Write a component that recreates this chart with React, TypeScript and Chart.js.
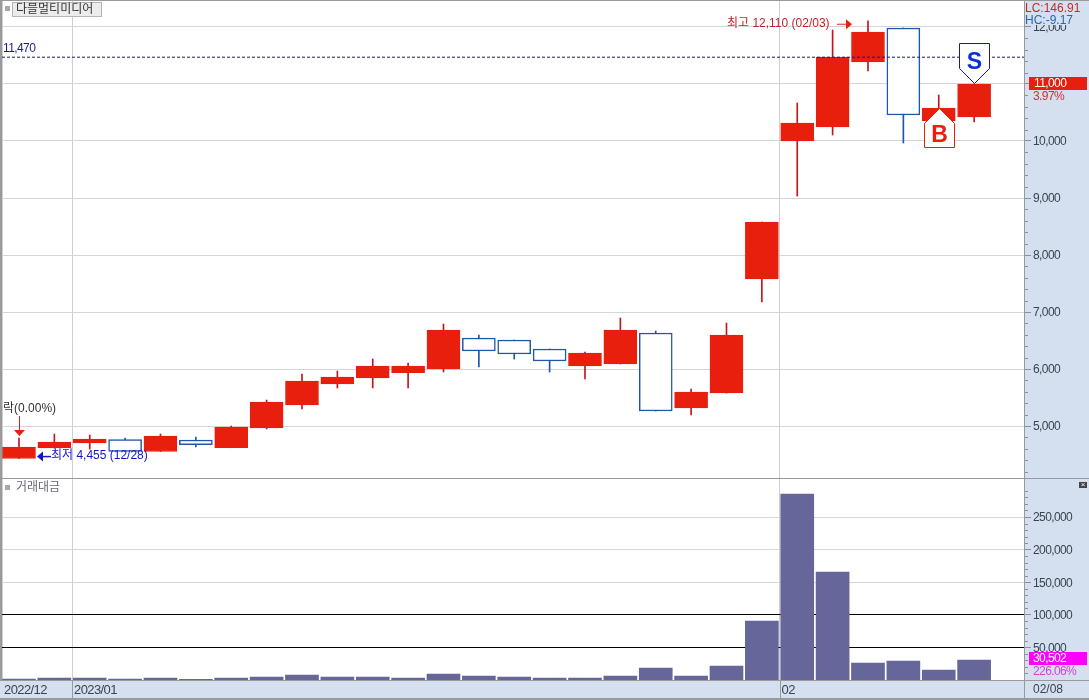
import React, { useEffect, useRef } from "react";
import { Chart, registerables } from "chart.js";

Chart.register(...registerables);

const candleOpen = [4430, 4614, 4702, 4763, 4553, 4754, 4619, 4965, 5368, 5737, 5842, 5935, 6000, 6544, 6509, 6351, 6053, 6088, 6632, 5316, 5579, 7579, 10000, 10246, 11386, 11983, 10351, 10421];
const candleClose = [4632, 4719, 4772, 4553, 4825, 4672, 4982, 5421, 5789, 5860, 6053, 6053, 6684, 6316, 6263, 6140, 6281, 6684, 5263, 5596, 6596, 8579, 10316, 11470, 11912, 10456, 10579, 11000];
const candleHigh = [4789, 4860, 4842, 4789, 4860, 4807, 5000, 5456, 5912, 5965, 6175, 6105, 6789, 6596, 6509, 6351, 6298, 6895, 6667, 5649, 6807, 8579, 10667, 11947, 12110, 11983, 10807, 11000];
const candleLow = [4430, 4614, 4596, 4553, 4553, 4632, 4619, 4947, 5298, 5667, 5667, 5667, 5947, 6035, 6175, 5947, 5825, 6088, 5263, 5193, 5579, 7175, 9035, 10105, 11228, 9965, 10351, 10333];
const tradingValue = [1500, 3000, 3000, 1500, 3000, 1000, 3000, 4500, 7700, 4500, 4500, 3000, 9200, 6000, 4500, 3000, 3000, 6000, 18400, 6000, 21500, 90500, 285000, 165500, 26000, 29000, 15300, 30502];

const priceTicks = [5000, 6000, 7000, 8000, 9000, 10000, 11000, 12000];
const valueTicks = [50000, 100000, 150000, 200000, 250000];
const dateTicks = [-0.48, 1.5, 21.5];
const dateLabels = ["2022/12", "2023/01", "02"];
const referenceLine = 11470;

const RED = "#e81f0d";
const BLUE = "#1f56a8";
const FAMILY = '"Liberation Sans","Noto Sans CJK KR",sans-serif';
const LABEL = `12px ${FAMILY}`;
const AXIS_GRAY = "#8b9197";
const LIGHT = "#d4e0ef";
const TIGHT = "-0.6px";

function text(ctx: any, s: string, x: number, y: number, color: string, spacing = "0px", font = LABEL, align: CanvasTextAlign = "left") {
  ctx.font = font;
  ctx.letterSpacing = spacing;
  ctx.fillStyle = color;
  ctx.textAlign = align;
  ctx.textBaseline = "middle";
  ctx.fillText(s, x, y + 1);
}

function poly(ctx: CanvasRenderingContext2D, pts: number[][], fill: string, stroke?: string) {
  ctx.beginPath();
  pts.forEach((p, i) => (i ? ctx.lineTo(p[0], p[1]) : ctx.moveTo(p[0], p[1])));
  ctx.closePath();
  ctx.fillStyle = fill;
  ctx.fill();
  if (stroke) {
    ctx.strokeStyle = stroke;
    ctx.lineWidth = 1;
    ctx.stroke();
  }
}

const backdrop = {
  id: "backdrop",
  beforeDraw(chart: any) {
    const { ctx, width, height, chartArea: a } = chart;
    ctx.save();
    ctx.fillStyle = "#ffffff";
    ctx.fillRect(0, 0, width, height);
    ctx.fillStyle = LIGHT;
    ctx.fillRect(a.right, 0, width - a.right, height);
    ctx.fillRect(0, a.bottom, width, height - a.bottom);
    ctx.restore();
    ctx.letterSpacing = TIGHT; // narrow axis numerals
  },
};

const furniture = {
  id: "furniture",
  afterDraw(chart: any) {
    const { ctx, width, height, chartArea: a, scales } = chart;
    const { x, y, yVal } = scales;
    ctx.save();

    // minor axis ticks
    ctx.strokeStyle = AXIS_GRAY;
    ctx.lineWidth = 1;
    ctx.beginPath();
    for (let v = 4200; v <= 12400; v += 200) {
      if (v % 1000 === 0) continue;
      const py = Math.round(y.getPixelForValue(v)) + 0.5;
      ctx.moveTo(a.right, py);
      ctx.lineTo(a.right + 4, py);
    }
    for (let v = 10000; v <= 300000; v += 10000) {
      if (v % 50000 === 0) continue;
      const py = Math.round(yVal.getPixelForValue(v)) + 0.5;
      ctx.moveTo(a.right, py);
      ctx.lineTo(a.right + 4, py);
    }
    ctx.stroke();

    // frame
    ctx.fillStyle = "#9a9a9a";
    ctx.fillRect(0, 0, width, 1);
    ctx.fillRect(0, 0, 2, 681);
    ctx.fillRect(0, 698, width, 2);
    ctx.fillRect(0, 478, width, 1);
    ctx.fillRect(0, a.bottom, width, 1);
    ctx.fillRect(a.right, 0, 1, height);
    dateTicks.slice(1).forEach((t) => ctx.fillRect(Math.round(x.getPixelForValue(t)), a.bottom, 1, height - a.bottom));

    // title box
    ctx.fillStyle = "#a8a8a8";
    ctx.fillRect(5, 6, 5, 5);
    ctx.fillStyle = "#ececec";
    ctx.fillRect(12, 2, 89, 14);
    ctx.strokeStyle = "#b5b5b5";
    ctx.strokeRect(12.5, 2.5, 89, 14);
    text(ctx, "다믈멀티미디어", 16, 9, "#333333");
    ctx.fillStyle = "#a8a8a8";
    ctx.fillRect(5, 485, 5, 5);
    text(ctx, "거래대금", 16, 487, "#6a6a78");
    ctx.fillStyle = "#444444";
    ctx.fillRect(1079, 482, 8, 6);
    text(ctx, "×", 1083, 484, "#ffffff", "0px", '8px "Liberation Sans",sans-serif', "center");

    text(ctx, "11,470", 3, 48, "#1a1a9c", TIGHT);
    ctx.fillStyle = LIGHT;
    ctx.fillRect(a.right + 1, 1, 62, 24);
    text(ctx, "LC:146.91", 1025, 8, "#c62a2a");
    text(ctx, "HC:-9.17", 1025, 20, "#2a66b0");

    // last price tags
    ctx.fillStyle = RED;
    ctx.fillRect(1029, 77, 58, 13);
    text(ctx, "11,000", 1034, 83, "#ffffff", TIGHT);
    text(ctx, "3.97%", 1033, 96, "#d03030", TIGHT);
    ctx.fillStyle = "#ff00ff";
    ctx.fillRect(1029, 652, 58, 13);
    text(ctx, "30,502", 1033, 658, "#ffffff", TIGHT);
    text(ctx, "226.06%", 1033, 671, "#d040e0", TIGHT);
    text(ctx, "02/08", 1033, 689, "#3b4350");

    // high note
    const hx = x.getPixelForValue(24);
    const hy = y.getPixelForValue(12110);
    text(ctx, "최고 12,110 (02/03)", hx - 141, hy + 2, "#c8202a");
    ctx.strokeStyle = RED;
    ctx.beginPath();
    ctx.moveTo(hx - 31, hy + 3.5);
    ctx.lineTo(hx - 20, hy + 3.5);
    ctx.stroke();
    poly(ctx, [[hx - 22, hy - 1.5], [hx - 16, hy + 3.5], [hx - 22, hy + 8.5]], RED);

    // low note
    const lx = x.getPixelForValue(0);
    const ly = y.getPixelForValue(4455);
    text(ctx, "최저 4,455 (12/28)", lx + 32, ly - 2, "#1414c8");
    ctx.strokeStyle = "#1414c8";
    ctx.lineWidth = 1.5;
    ctx.beginPath();
    ctx.moveTo(lx + 22, ly - 0.5);
    ctx.lineTo(lx + 32, ly - 0.5);
    ctx.stroke();
    poly(ctx, [[lx + 18, ly - 0.5], [lx + 24, ly - 5.5], [lx + 24, ly + 4.5]], "#1414c8");

    // ex-rights note
    text(ctx, "락(0.00%)", 3, 408, "#333333");
    ctx.strokeStyle = "#c8202a";
    ctx.lineWidth = 1;
    ctx.beginPath();
    ctx.moveTo(lx + 0.5, 416);
    ctx.lineTo(lx + 0.5, 432);
    ctx.stroke();
    poly(ctx, [[lx - 5, 430], [lx + 6, 430], [lx + 0.5, 436]], RED);

    // buy marker
    const bx = Math.round(x.getPixelForValue(26)) + 0.5;
    const by = Math.round(y.getPixelForValue(10579)) + 0.5;
    poly(ctx, [[bx, by], [bx + 15, by + 15], [bx + 15, by + 39], [bx - 15, by + 39], [bx - 15, by + 15]], "#ffffff", RED);
    text(ctx, "B", bx, by + 26, RED, "0px", 'bold 23px "Liberation Sans",sans-serif', "center");

    // sell marker
    const sx = Math.round(x.getPixelForValue(27)) + 0.5;
    const sy = Math.round(y.getPixelForValue(11000)) - 0.5;
    poly(ctx, [[sx, sy], [sx + 15, sy - 15], [sx + 15, sy - 40], [sx - 15, sy - 40], [sx - 15, sy - 15]], "#ffffff", "#1a1a9c");
    text(ctx, "S", sx, sy - 22, "#0c30d8", "0px", 'bold 23px "Liberation Sans",sans-serif', "center");

    ctx.restore();
  },
};

const fitY = (s: any) => {
  s.width = 65;
  s.paddingTop = 0;
  s.paddingBottom = 0;
};

export default function App() {
  const ref = useRef<HTMLCanvasElement | null>(null);

  useEffect(() => {
    const xs = candleOpen.map((_, i) => i);
    const chart = new Chart(ref.current as HTMLCanvasElement, {
      data: {
        datasets: [
          {
            type: "line",
            label: "기준선",
            yAxisID: "y",
            order: 0,
            data: [{ x: -0.48, y: referenceLine }, { x: 28.41, y: referenceLine }],
            borderColor: "#14148c",
            borderWidth: 1,
            borderDash: [3, 2],
            pointRadius: 0,
          },
          {
            type: "bar",
            label: "몸통",
            yAxisID: "y",
            order: 1,
            data: xs.map((i) => ({ x: i, y: [candleOpen[i], candleClose[i]] })),
            barThickness: 33,
            grouped: false,
            backgroundColor: xs.map((i) => (candleClose[i] >= candleOpen[i] ? RED : "#ffffff")),
            borderColor: xs.map((i) => (candleClose[i] >= candleOpen[i] ? RED : BLUE)),
            borderWidth: xs.map((i) => (candleClose[i] >= candleOpen[i] ? 1 : 1.5)),
            borderSkipped: false,
          },
          {
            type: "bar",
            label: "꼬리",
            yAxisID: "y",
            order: 2,
            data: xs.map((i) => ({ x: i, y: [candleLow[i], candleHigh[i]] })),
            barThickness: 1,
            grouped: false,
            backgroundColor: xs.map((i) => (candleClose[i] >= candleOpen[i] ? "#c4161c" : BLUE)),
          },
          {
            type: "bar",
            label: "거래대금",
            yAxisID: "yVal",
            order: 3,
            data: xs.map((i) => ({ x: i, y: tradingValue[i] })),
            barThickness: 33,
            grouped: false,
            backgroundColor: "#67669a",
          },
        ],
      } as any,
      options: {
        responsive: false,
        animation: false,
        layout: { autoPadding: false, padding: { top: 1, left: 2, right: 0, bottom: 0 } },
        plugins: { legend: { display: false }, tooltip: { enabled: false } },
        scales: {
          x: {
            type: "linear",
            position: "bottom",
            offset: false,
            min: -0.48,
            max: 28.41,
            afterBuildTicks: (s: any) => {
              s.ticks = dateTicks.map((value) => ({ value }));
            },
            afterFit: (s: any) => {
              s.height = 20;
              s.paddingLeft = 0;
              s.paddingRight = 0;
            },
            ticks: {
              autoSkip: false,
              maxRotation: 0,
              align: "start",
              padding: 3,
              labelOffset: 2,
              color: "#3b4350",
              font: { family: FAMILY, size: 13 },
              callback: (v: any) => dateLabels[dateTicks.indexOf(v)],
            },
            grid: { color: "#cfcfcf", offset: false, drawTicks: false, tickLength: 0 },
            border: { display: false },
          },
          y: {
            type: "linear",
            position: "right",
            stack: "panes",
            stackWeight: 477,
            weight: 1,
            min: 4088,
            max: 12456,
            afterBuildTicks: (s: any) => {
              s.ticks = priceTicks.map((value) => ({ value }));
            },
            afterFit: fitY,
            ticks: {
              crossAlign: "near",
              padding: 2,
              labelOffset: 1,
              color: "#3b4350",
              font: { family: FAMILY, size: 12 },
              callback: (v: any) => Number(v).toLocaleString("en-US"),
            },
            grid: { color: "#d6d6d6", tickColor: AXIS_GRAY, tickLength: 7 },
            border: { color: AXIS_GRAY },
          },
          yVal: {
            type: "linear",
            position: "right",
            stack: "panes",
            stackWeight: 202,
            weight: 2,
            min: 0,
            max: 309816,
            afterBuildTicks: (s: any) => {
              s.ticks = valueTicks.map((value) => ({ value }));
            },
            afterFit: fitY,
            ticks: {
              crossAlign: "near",
              padding: 2,
              labelOffset: 1,
              color: "#3b4350",
              font: { family: FAMILY, size: 12 },
              callback: (v: any) => Number(v).toLocaleString("en-US"),
            },
            grid: {
              color: (c: any) => (c.tick && c.tick.value <= 100000 ? "#000000" : "#d6d6d6"),
              tickColor: AXIS_GRAY,
              tickLength: 7,
            },
            border: { color: AXIS_GRAY },
          },
        },
      } as any,
      plugins: [backdrop, furniture],
    } as any);
    return () => chart.destroy();
  }, []);

  return (
    <div style={{ position: "fixed", left: 0, top: 0, width: 1089, height: 700 }}>
      <canvas ref={ref} width={1089} height={700} style={{ display: "block" }} />
    </div>
  );
}
